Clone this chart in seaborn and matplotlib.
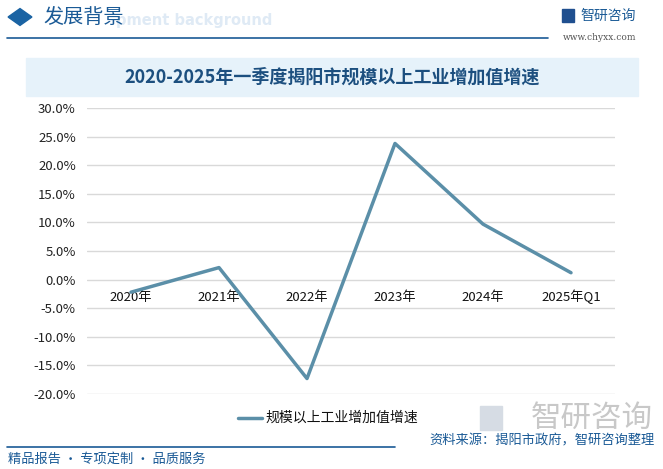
import matplotlib
matplotlib.use("Agg")
import matplotlib.pyplot as plt
import matplotlib.patches as mpatches
from matplotlib.lines import Line2D
import seaborn as sns
import pandas as pd

categories = ["2020年", "2021年", "2022年", "2023年", "2024年", "2025年Q1"]
growth = [-2.2, 2.1, -17.3, 23.8, 9.7, 1.2]
series_name = "规模以上工业增加值增速"
title = "2020-2025年一季度揭阳市规模以上工业增加值增速"
yticks = [30, 25, 20, 15, 10, 5, 0, -5, -10, -15, -20]

sns.set_theme(style="white")
plt.rcParams['font.family'] = ['Noto Sans CJK SC', 'DejaVu Sans']

W, H = 663, 469
fig = plt.figure(figsize=(W / 100, H / 100), dpi=100)

def fx(x):
    return x / W

def fy(y):
    return 1 - y / H

# Header
fig.text(fx(116), fy(21), "pment background", fontsize=10.5, color="#dfeaf5",
         fontweight="bold", va="center", ha="left", zorder=0, family=['DejaVu Sans'])
fig.patches.append(mpatches.RegularPolygon((fx(20), fy(17)), 4, radius=0.018,
                                           transform=fig.transFigure, color="#1a63a3"))
fig.text(fx(43), fy(17), "发展背景", fontsize=14.5, color="#1a5a96", va="center", ha="left")
fig.add_artist(Line2D([fx(7), fx(548)], [fy(38), fy(38)], transform=fig.transFigure,
                      color="#1a5a96", lw=1.2))
fig.patches.append(mpatches.Rectangle((fx(562), fy(22)), 12 / W, 13 / H, transform=fig.transFigure,
                                      color="#1f4f8f"))
fig.text(fx(580), fy(16), "智研咨询", fontsize=10, color="#1a5a96", va="center", ha="left")
fig.text(fx(600), fy(37), "www.chyxx.com", fontsize=6.5, color="#555555", va="center", ha="center",
         family=['DejaVu Serif'])

# Title bar
fig.patches.append(mpatches.Rectangle((fx(26), fy(96)), (638 - 26) / W, (96 - 58) / H,
                                      transform=fig.transFigure, color="#e6f2fa", zorder=0))
fig.text(fx(332), fy(77), title, fontsize=13, color="#1c4f7f", va="center", ha="center",
         fontweight="bold")

# Plot
ax = fig.add_axes([fx(87), fy(394), (615 - 87) / W, (394 - 108) / H])
df = pd.DataFrame({"cat": categories, "val": growth})
sns.lineplot(data=df, x="cat", y="val", ax=ax, color="#5b8fa8", lw=2.5, sort=False,
             label=series_name, legend=False)
ax.set_xlim(-0.5, len(categories) - 0.5)
ax.set_ylim(-20, 30)
ax.set_yticks(yticks)
ax.set_yticklabels([f"{v:.1f}%" for v in yticks], fontsize=9.5, color="#222222")
ax.grid(axis="y", color="#d9d9d9", lw=1)
ax.grid(axis="x", visible=False)
for s in ["top", "right", "left"]:
    ax.spines[s].set_visible(False)
ax.spines["bottom"].set_position(("data", 0))
ax.spines["bottom"].set_visible(False)
ax.tick_params(axis="x", labelsize=9.5, colors="#111111", length=0, pad=15.5)
ax.tick_params(axis="y", length=0, pad=8)
for lab in ax.get_xticklabels():
    lab.set_verticalalignment("baseline")
ax.set_xlabel("")
ax.set_ylabel("")
ax.patch.set_alpha(0)

# Legend
fig.add_artist(Line2D([fx(238), fx(262)], [fy(418), fy(418)], transform=fig.transFigure,
                      color="#5b8fa8", lw=2.5))
fig.text(fx(265), fy(418), series_name, fontsize=10, color="#111111", va="center", ha="left")

# Footer
fig.patches.append(mpatches.Rectangle((fx(480), fy(430)), 22 / W, 24 / H, transform=fig.transFigure,
                                      color="#d6dce4", zorder=0))
fig.text(fx(592), fy(418), "智研咨询", fontsize=22, color="#c8c8c8", va="center", ha="center")
fig.add_artist(Line2D([fx(7), fx(395)], [fy(447), fy(447)], transform=fig.transFigure,
                      color="#1a5a96", lw=1.2))
fig.text(fx(8), fy(459), "精品报告 · 专项定制 · 品质服务", fontsize=9.5, color="#1a5a96",
         va="center", ha="left")
fig.text(fx(655), fy(441), "资料来源：揭阳市政府，智研咨询整理", fontsize=9.5, color="#1a5a96",
         va="center", ha="right")

fig.savefig("out.png", dpi=100)
